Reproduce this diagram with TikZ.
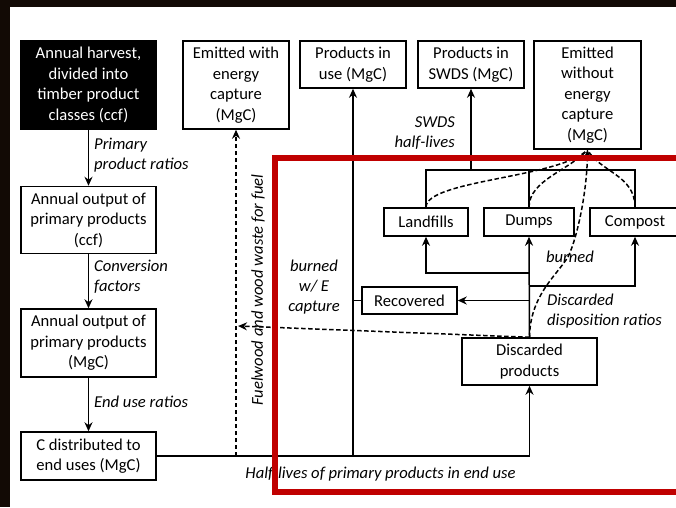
\documentclass[tikz,border=0pt]{standalone}
\usepackage{fontspec}
\setmainfont{Carlito}
\usetikzlibrary{arrows.meta,positioning,calc}
\definecolor{framered}{RGB}{192,0,0}
\definecolor{edgeblack}{RGB}{18,10,5}

\begin{document}
\begin{tikzpicture}[
    x=1pt, y=-1pt,
    font=\fontsize{16.6}{20.5}\selectfont,
    box/.style={
        rectangle, draw, line width=1.5pt,
        align=center, inner sep=2pt
    },
    darkbox/.style={box, fill=black, text=white},
    sidebox/.style={box, minimum width=135pt},
    note/.style={font=\fontsize{16.6}{20}\selectfont\itshape, inner sep=0pt},
    arrow/.style={-{Stealth[length=9pt,width=8pt]}, line width=1.5pt},
    dasharrow/.style={-{Stealth[length=9pt,width=8pt]}, line width=1.5pt, dash pattern=on 4.5pt off 2.5pt},
    dashline/.style={line width=1.5pt, dash pattern=on 4.5pt off 2.5pt},
    line/.style={line width=1.5pt}
]
\clip (0,0) rectangle (676,507);
\fill[white] (0,0) rectangle (676,507);

% Page edges
\fill[edgeblack] (0,0) rectangle (676,7);
\fill[edgeblack] (0,0) rectangle (10,507);

% Left column
\node[darkbox, sidebox, minimum height=88pt] (harvest) at (88.5,85) {Annual harvest,\\divided into\\timber product\\classes (ccf)};
\node[sidebox, minimum height=67pt] (outccf) at (88.5,220) {Annual output of\\primary products\\(ccf)};
\node[sidebox, minimum height=68pt] (outmgc) at (88.5,343) {Annual output of\\primary products\\(MgC)};
\node[sidebox, minimum height=48pt] (enduse) at (88.5,456) {C distributed to\\end uses (MgC)};

% Top row
\node[box, minimum width=106pt, minimum height=88pt] (emitE) at (236,85) {Emitted with\\energy\\capture\\(MgC)};
\node[box, minimum width=106pt, minimum height=47pt] (inuse) at (353,64.5) {Products in\\use (MgC)};
\node[box, minimum width=106pt, minimum height=47pt] (inswds) at (471,64.5) {Products in\\SWDS (MgC)};
\node[box, minimum width=107pt, minimum height=108pt] (emitNoE) at (587.5,95) {Emitted\\without\\energy\\capture\\(MgC)};

% Disposal
\node[box, minimum width=84pt, minimum height=28pt] (landfills) at (426,222) {Landfills};
\node[box, minimum width=90pt, minimum height=28pt] (dumps) at (529,222) {Dumps};
\node[box, minimum width=90pt, minimum height=28pt] (compost) at (635,222) {Compost};
\node[box, minimum width=95pt, minimum height=27pt] (recovered) at (409.5,300.5) {Recovered};
\node[box, minimum width=135pt, minimum height=47pt] (discarded) at (529.5,361.5) {Discarded\\products};

% Junctions
\coordinate (jland) at (529.5,273);
\coordinate (jcomp) at (529.5,286);
\coordinate (jrec) at (529.5,300.5);
\coordinate (treetop) at (635,170);
\coordinate (fuelin) at (238,326);

% Left column flow
\draw[arrow] (harvest) -- (outccf);
\draw[arrow] (outccf) -- (outmgc);
\draw[arrow] (outmgc) -- (enduse);

% End use flow
\draw[arrow] (enduse.east) -| (discarded.south);
\draw[arrow] (inuse.south |- enduse.east) -- (inuse.south);
\draw[line] (recovered.west) -- (recovered.west -| inuse.south);
\draw[dasharrow] (emitE.south |- enduse.east) -- (emitE.south);
\draw[dasharrow] (discarded.north) -- (fuelin);

% Disposition
\draw[arrow] (discarded.north) -- (dumps.south);
\draw[arrow] (jland) -| (landfills.south);
\draw[arrow] (jcomp) -| (compost.south);
\draw[arrow] (jrec) -- (recovered.east);

% SWDS tree
\draw[line] (landfills.north) |- (treetop) -- (compost.north);
\draw[line] (dumps.north) -- (dumps.north |- treetop);
\draw[arrow] (inswds.south |- treetop) -- (inswds.south);

% Emissions without energy capture
\draw[dashline] (landfills.north) .. controls (426,180) and (560,178) .. (emitNoE.south);
\draw[dashline] (dumps.north) .. controls (529,180) and (570,170) .. (emitNoE.south);
\draw[dashline] (compost.north) .. controls (635,175) and (600,172) .. (emitNoE.south);
\draw[dasharrow] (discarded.north) .. controls (530,296) and (556,276) .. (568,257)
    .. controls (578,236) and (587,190) .. (emitNoE.south);

% Labels
\node[note, anchor=west, align=left] (lprim) at (94,155) {Primary\\product ratios};
\node[note, anchor=west, align=left] (lconv) at (94,277) {Conversion\\factors};
\node[note, anchor=west] (lend) at (94,402) {End use ratios};
\node[note, rotate=90] (lfuel) at (258,290) {Fuelwood and wood waste for fuel};
\node[note, align=center] (lburnE) at (314,287) {burned\\w/ E\\capture};
\node[note, anchor=east, align=right] (lswds) at (455,133) {SWDS\\half-lives};
\node[note] (lburn) at (570,257) {burned};
\node[note, anchor=west, align=left] (ldisp) at (547,311) {Discarded\\disposition ratios};
\node[note] (lhalf) at (380.5,474) {Half-lives of primary products in end use};

% Highlight frame
\draw[framered, line width=6pt] (275,158) rectangle (700,492);

\end{tikzpicture}
\end{document}
